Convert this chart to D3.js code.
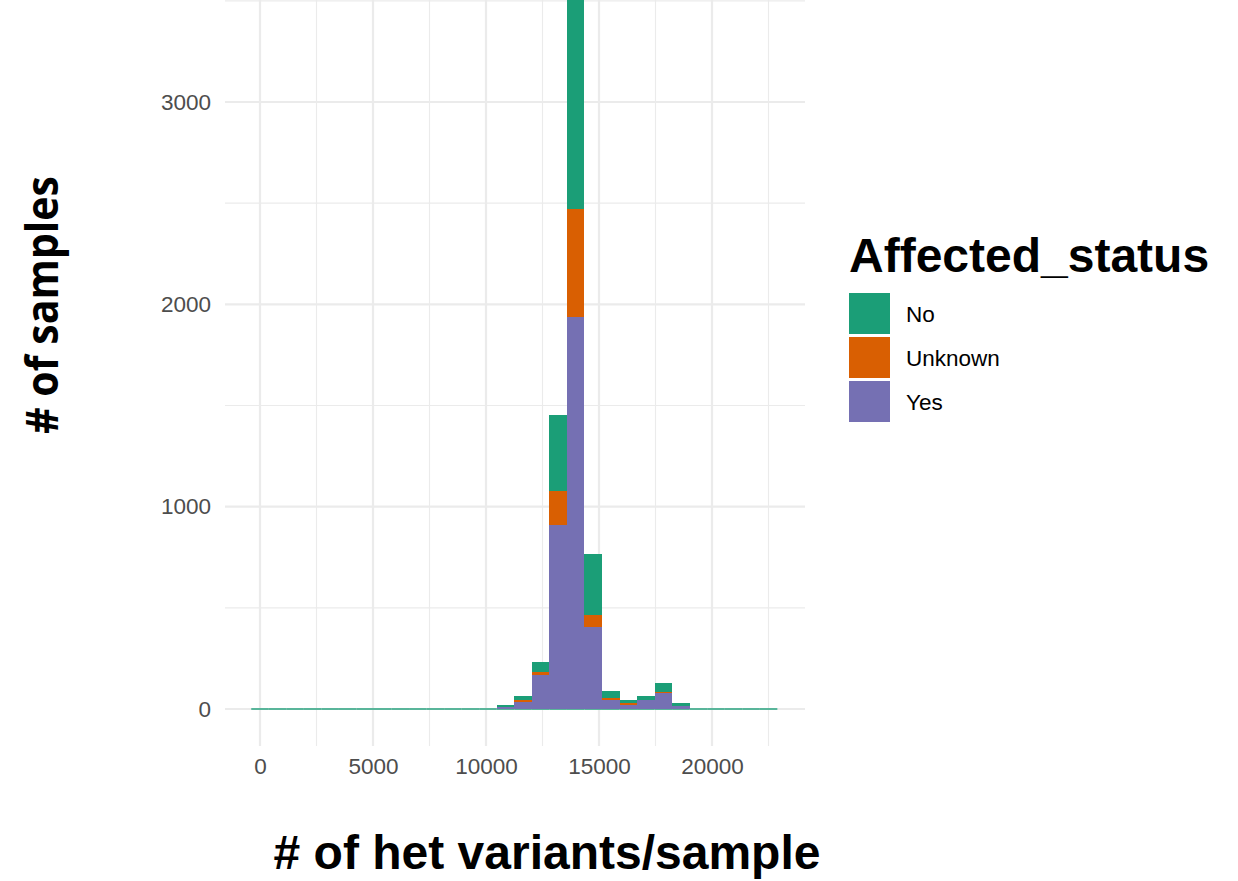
<!DOCTYPE html>
<html>
<head>
<meta charset="utf-8">
<script src="https://cdn.jsdelivr.net/npm/d3@7/dist/d3.min.js"></script>
<style>
  html, body { margin: 0; padding: 0; background: #ffffff; }
  svg { display: block; }
</style>
</head>
<body>
<svg id="chart" width="1238" height="881"></svg>
<script>
// Histogram of heterozygous variant counts per sample, stacked by affected status.
// 30 bins, each centred on a multiple of the bin width (first bin centred on 0).
const binWidth = 776;
const binCount = 30;

// Counts per bin (index 0..29) for each status group
const countsYes = [0,0,0,0,0,0,0,0,0,0,0,0,0,0, 12, 36, 167, 911, 1936, 403, 46, 20, 45, 78, 15, 0,0,0,0,0];
const countsUnknown = [0,0,0,0,0,0,0,0,0,0,0,0,0,0, 0, 10, 18, 165, 534, 62, 10, 8, 0, 6, 0, 0,0,0,0,0];
const countsNo = [0,0,0,0,0,0,0,0,0,0,0,0,0,0, 9, 18, 48, 379, 1160, 302, 33, 18, 19, 45, 15, 0,0,0,0,0];

const statusNames = ["No", "Unknown", "Yes"];
const statusColors = ["#1B9E77", "#D95F02", "#7570B3"];

const xTicks = [0, 5000, 10000, 15000, 20000];
const xMinorTicks = [2500, 7500, 12500, 17500, 22500];
const yTicks = [0, 1000, 2000, 3000];
const yMinorTicks = [500, 1500, 2500, 3500];

const xTitle = "# of het variants/sample";
const yTitle = "# of samples";
const legendTitle = "Affected_status";

// ---- layout ----
const panel = { left: 225, right: 805, top: 0, bottom: 746 };

const svg = d3.select("#chart");

const x = d3.scaleLinear().domain([0, 20000]).range([260, 712]);
const y = d3.scaleLinear().domain([0, 3000]).range([709, 102]);

// ---- grid ----
const grid = svg.append("g");
grid.selectAll("line.ymin").data(yMinorTicks).join("line")
  .attr("x1", panel.left).attr("x2", panel.right)
  .attr("y1", d => y(d)).attr("y2", d => y(d))
  .attr("stroke", "#EBEBEB").attr("stroke-width", 1.1);
grid.selectAll("line.xmin").data(xMinorTicks).join("line")
  .attr("x1", d => x(d)).attr("x2", d => x(d))
  .attr("y1", panel.top).attr("y2", panel.bottom)
  .attr("stroke", "#EBEBEB").attr("stroke-width", 1.1);
grid.selectAll("line.ymaj").data(yTicks).join("line")
  .attr("x1", panel.left).attr("x2", panel.right)
  .attr("y1", d => y(d)).attr("y2", d => y(d))
  .attr("stroke", "#EBEBEB").attr("stroke-width", 2.2);
grid.selectAll("line.xmaj").data(xTicks).join("line")
  .attr("x1", d => x(d)).attr("x2", d => x(d))
  .attr("y1", panel.top).attr("y2", panel.bottom)
  .attr("stroke", "#EBEBEB").attr("stroke-width", 2.2);

// ---- bars ----
const bins = d3.range(binCount).map(i => {
  const x0 = i * binWidth - binWidth / 2;
  return { i, x0, x1: x0 + binWidth, yes: countsYes[i], unknown: countsUnknown[i], no: countsNo[i] };
});

// stacking order bottom -> top: Yes, Unknown, No
const stack = d3.stack().keys(["yes", "unknown", "no"]);
const series = stack(bins);
const keyColor = { yes: statusColors[2], unknown: statusColors[1], no: statusColors[0] };

// hairline for each bin at the baseline (zero-height bars)
svg.append("g").selectAll("line").data(bins).join("line")
  .attr("x1", d => x(d.x0)).attr("x2", d => x(d.x1))
  .attr("y1", y(0)).attr("y2", y(0))
  .attr("stroke", statusColors[0]).attr("stroke-width", 1.4);

const barG = svg.append("g");
series.forEach(s => {
  barG.append("g").attr("fill", keyColor[s.key])
    .selectAll("rect").data(s.filter(d => d[1] > d[0])).join("rect")
    .attr("x", d => x(d.data.x0))
    .attr("width", d => x(d.data.x1) - x(d.data.x0))
    .attr("y", d => y(d[1]))
    .attr("height", d => y(d[0]) - y(d[1]))
    .attr("shape-rendering", "crispEdges");
});

// ---- axes (labels only) ----
const tickFont = "'Liberation Sans', Arial, Helvetica, sans-serif";
const yAxis = d3.axisLeft(y).tickValues(yTicks).tickSize(0).tickPadding(14).tickFormat(d3.format("d"));
const yAxisG = svg.append("g").attr("transform", `translate(${panel.left},0)`).call(yAxis);
yAxisG.select(".domain").remove();
yAxisG.selectAll("text").attr("fill", "#4D4D4D").style("font-family", tickFont).style("font-size", "22.5px");

const xAxis = d3.axisBottom(x).tickValues(xTicks).tickSize(0).tickPadding(12).tickFormat(d3.format("d"));
const xAxisG = svg.append("g").attr("transform", `translate(0,${panel.bottom})`).call(xAxis);
xAxisG.select(".domain").remove();
xAxisG.selectAll("text").attr("fill", "#4D4D4D").style("font-family", tickFont).style("font-size", "22.5px");

// ---- titles ----
svg.append("text")
  .attr("x", 547).attr("y", 869)
  .attr("text-anchor", "middle")
  .style("font-family", tickFont).style("font-weight", "bold").style("font-size", "48px")
  .attr("fill", "#000")
  .text(xTitle);

svg.append("text")
  .attr("transform", "translate(58,305) rotate(-90)")
  .attr("text-anchor", "middle")
  .attr("textLength", 258).attr("lengthAdjust", "spacingAndGlyphs")
  .style("font-family", "'Open Sans', sans-serif").style("font-weight", "bold").style("font-size", "44px")
  .attr("fill", "#000")
  .text(yTitle);

// ---- legend ----
const legend = svg.append("g").attr("transform", "translate(849,0)");
legend.append("text")
  .attr("x", 0).attr("y", 272)
  .style("font-family", tickFont).style("font-weight", "bold").style("font-size", "48px")
  .attr("fill", "#000")
  .text(legendTitle);

const keyRow = d3.scaleBand().domain(statusNames).range([293, 425]).paddingInner(0);
legend.selectAll("rect.key").data(statusNames).join("rect")
  .attr("x", 0).attr("y", d => keyRow(d))
  .attr("width", 41).attr("height", keyRow.bandwidth() - 3)
  .attr("fill", (d, i) => statusColors[i]);
legend.selectAll("text.lab").data(statusNames).join("text")
  .attr("x", 57).attr("y", d => keyRow(d) + keyRow.bandwidth() / 2 - 1.5)
  .attr("dy", "0.36em")
  .style("font-family", tickFont).style("font-size", "22.5px")
  .attr("fill", "#000")
  .text(d => d);
</script>
</body>
</html>
